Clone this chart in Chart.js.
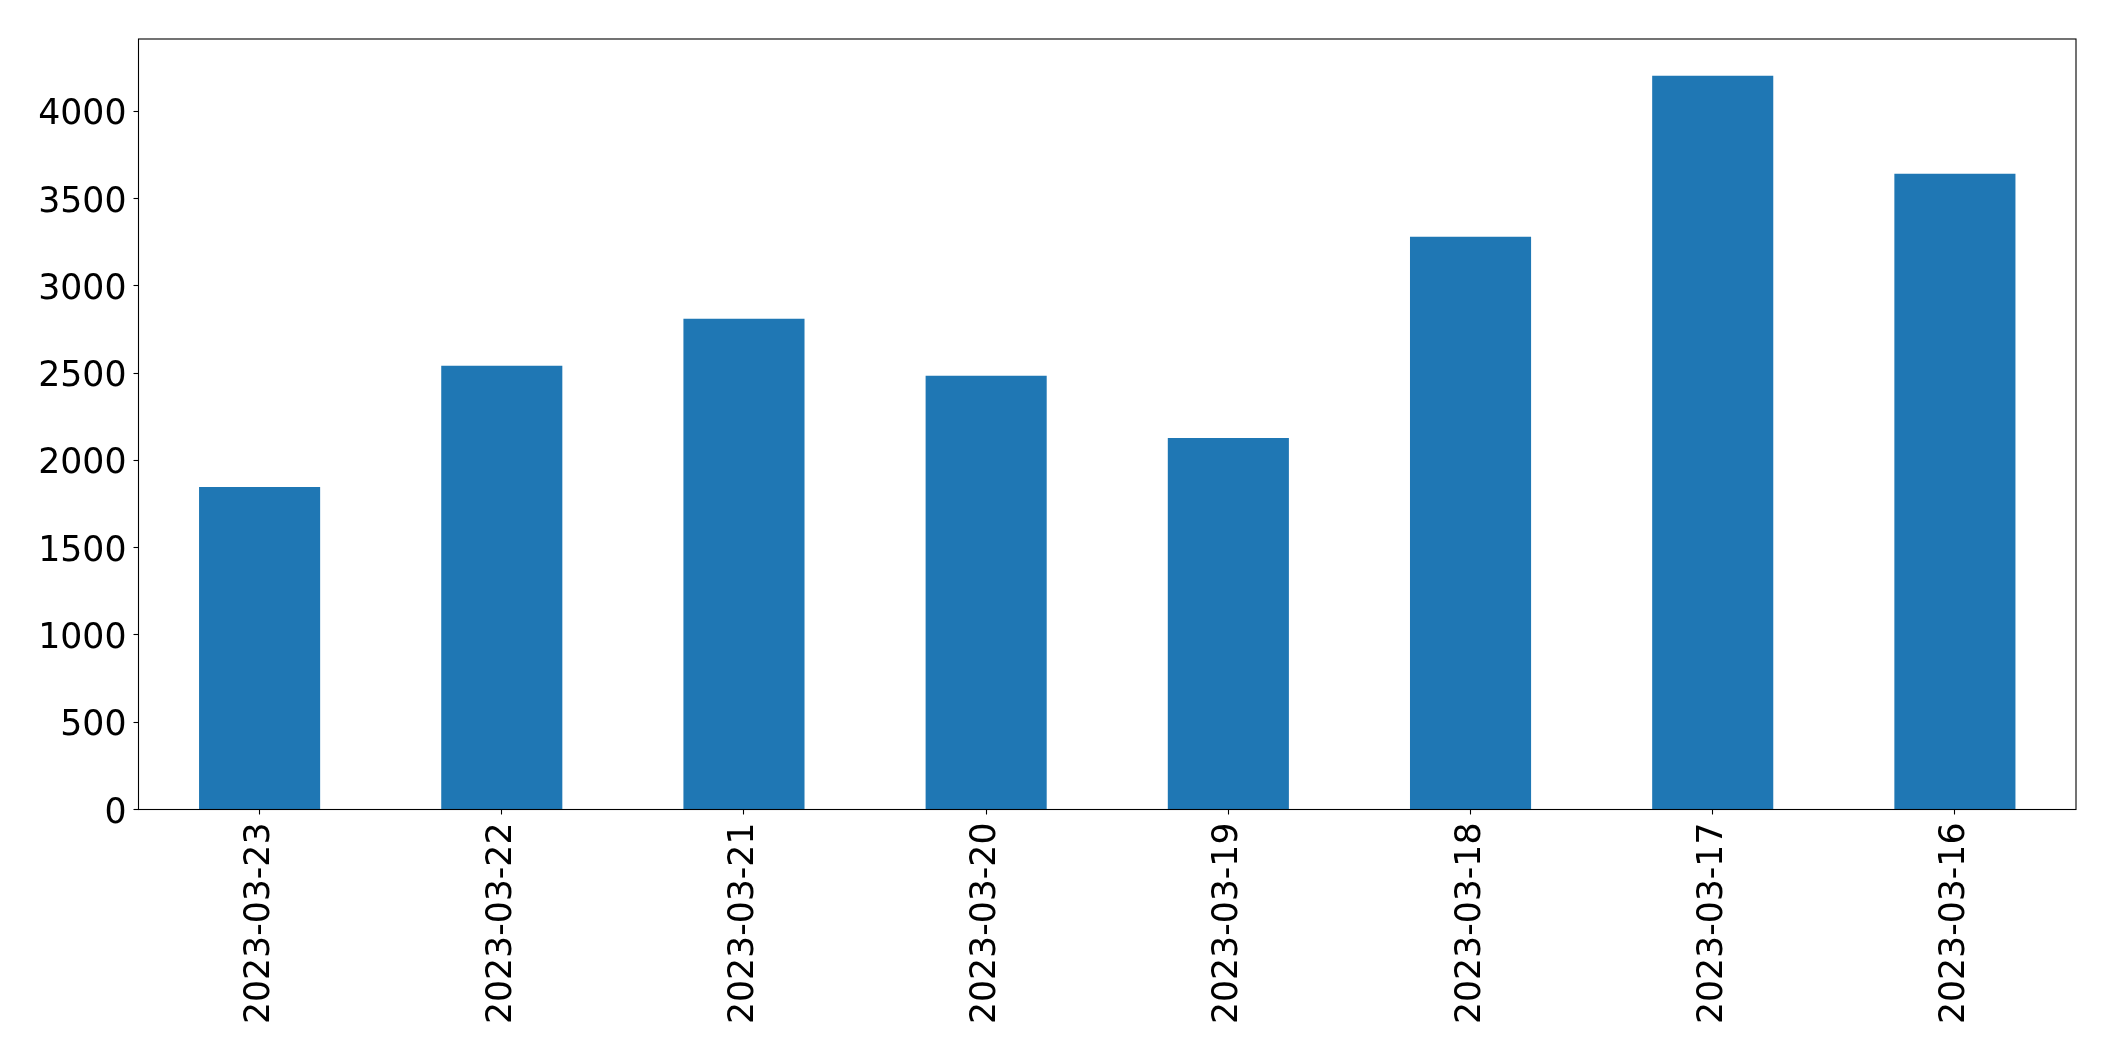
<!DOCTYPE html>
<html>
<head>
<meta charset="utf-8">
<script src="https://cdn.jsdelivr.net/npm/chart.js@4/dist/chart.umd.min.js"></script>
<style>
  html, body { margin: 0; padding: 0; background: #fff; }
  #wrap { width: 2115px; height: 1061px; }
</style>
</head>
<body>
<div id="wrap"><canvas id="c" width="2115" height="1061"></canvas></div>
<script>
const categories = ["2023-03-23", "2023-03-22", "2023-03-21", "2023-03-20", "2023-03-19", "2023-03-18", "2023-03-17", "2023-03-16"];
const values = [1848, 2542, 2811, 2485, 2129, 3281, 4204, 3642];
const yTicks = [0, 500, 1000, 1500, 2000, 2500, 3000, 3500, 4000];

const FONT = "'DejaVu Sans', 'Liberation Sans', sans-serif";

const framePlugin = {
  id: 'frame',
  afterDraw(chart) {
    const a = chart.chartArea;
    const ctx = chart.ctx;
    ctx.save();
    ctx.strokeStyle = '#000';
    ctx.lineWidth = 1.1;
    ctx.strokeRect(a.left, a.top, a.right - a.left, a.bottom - a.top);
    ctx.restore();
  }
};

new Chart(document.getElementById('c'), {
  type: 'bar',
  data: {
    labels: categories,
    datasets: [{
      data: values,
      backgroundColor: '#1f77b4',
      borderWidth: 0,
      categoryPercentage: 1.0,
      barPercentage: 0.5
    }]
  },
  options: {
    responsive: false,
    animation: false,
    layout: { padding: { left: 0, top: 39, right: 39, bottom: 0 } },
    plugins: { legend: { display: false }, tooltip: { enabled: false }, title: { display: false } },
    scales: {
      x: {
        offset: true,
        grid: { display: true, offset: false, drawOnChartArea: false, drawTicks: true, tickLength: 5, tickColor: '#000', tickWidth: 1.1 },
        border: { display: false },
        ticks: {
          color: '#000',
          font: { family: FONT, size: 34.7 },
          minRotation: 90,
          maxRotation: 90,
          autoSkip: false,
          padding: 8
        },
        afterFit(scale) { scale.height = 251.5; }
      },
      y: {
        min: 0,
        max: Math.max(...values) * 1.05,
        grid: { display: true, drawOnChartArea: false, drawTicks: true, tickLength: 5, tickColor: '#000', tickWidth: 1.1 },
        border: { display: false },
        afterBuildTicks(scale) { scale.ticks = yTicks.map(v => ({ value: v })); },
        ticks: {
          color: '#000',
          font: { family: FONT, size: 34.7 },
          padding: 7,
          labelOffset: 4,
          callback: (v) => String(v)
        },
        afterFit(scale) { scale.width = 138.5; }
      }
    }
  },
  plugins: [framePlugin]
});
</script>
</body>
</html>
